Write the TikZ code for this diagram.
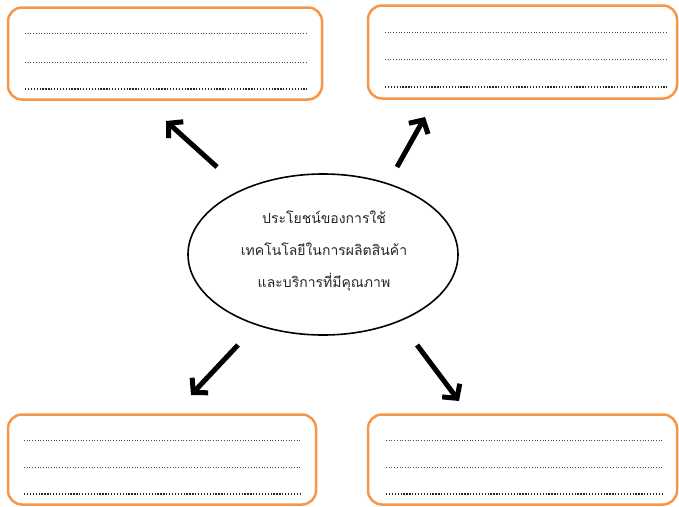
\documentclass[tikz,border=0pt]{standalone}
\usepackage{fontspec}
\newfontfamily\thaifont[Script=Thai]{Loma}
\usepackage{tikz}
\usetikzlibrary{positioning}
\usetikzlibrary{shapes.geometric}
\usetikzlibrary{arrows.meta}

\definecolor{boxorange}{HTML}{F79646}

\begin{document}
\begin{tikzpicture}[x=1pt,y=-1pt,
    answerbox/.style={draw=boxorange,line width=2.5pt,rounded corners=14pt,minimum width=#1,inner sep=0pt},
    answerbox/.default=310pt,
    blank/.style={line width=0.9pt,black!70,dash pattern=on 0.9pt off 1.8pt},
    blankdark/.style={line width=1.2pt,black!85,dash pattern=on 1.3pt off 1.6pt},
    bigarrow/.style={-{Straight Barb[length=10pt,width=22pt]},line width=5pt}]
        % \draw[help lines] (0,0) grid (679,506);
      \useasboundingbox (0,0) rectangle (679,506);

      \node[ellipse,draw,line width=1.6pt,minimum width=270pt,minimum height=161pt] (topic) at (323,254.5) {};
      \node[align=center,font=\thaifont\fontsize{14}{32}\selectfont,text=black!85] (title) at (324,251)
            {ประโยชน์ของการใช้\\เทคโนโลยีในการผลิตสินค้า\\และบริการที่มีคุณภาพ};

      \node[answerbox=314pt,minimum height=92pt] (tl) at (165,53.5) {};
      \node[answerbox=309pt,minimum height=93pt] (tr) at (522.5,52) {};
      \node[answerbox=308pt,minimum height=90pt] (bl) at (162,459.5) {};
      \node[answerbox=309pt,minimum height=90pt] (br) at (522.5,459.5) {};

      % dotted writing lines
      \foreach \xa/\xb/\ya/\yb/\yc in {25/307/33/62/89, 385/667/32/59/87, 24/300/440/467/494, 386/662/440/467/494}
      {
        \draw[blank] (\xa,\ya) -- (\xb,\ya);
        \draw[blank] (\xa,\yb) -- (\xb,\yb);
        \draw[blankdark] (\xa,\yc) -- (\xb,\yc);
      }

      \coordinate (tl from) at (217,167);  \coordinate (tl to) at (166,121);
      \coordinate (tr from) at (397,167);  \coordinate (tr to) at (425,117);
      \coordinate (bl from) at (238,345);  \coordinate (bl to) at (191,395);
      \coordinate (br from) at (417,345);  \coordinate (br to) at (459,401);

      \draw[bigarrow] (tl from) -- (tl to);
      \draw[bigarrow] (tr from) -- (tr to);
      \draw[bigarrow] (bl from) -- (bl to);
      \draw[bigarrow] (br from) -- (br to);
    \end{tikzpicture}
\end{document}
